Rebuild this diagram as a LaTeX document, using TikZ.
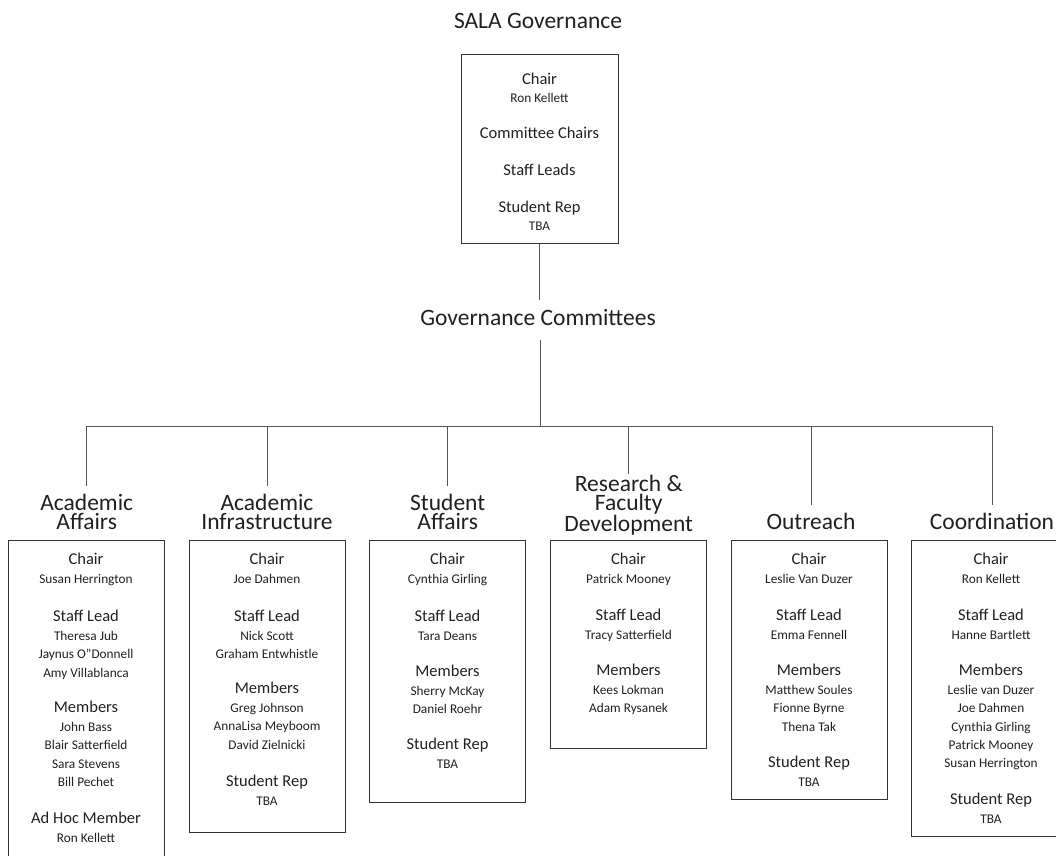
\documentclass[tikz,border=0pt]{standalone}
\usepackage{fontspec}
\setmainfont{Carlito}
\definecolor{ink}{HTML}{231F20}
\definecolor{boxline}{HTML}{333333}
\definecolor{connline}{HTML}{555555}
\newcommand\mkgroup[5]{%
  \node[hd] (#1h) at (#2,#3+5.3) {#4};
  \foreach \nme [count=\i] in {#5}
    \node[nm] (#1n\i) at (#2,#3+24.3+18.4*\i-18.4) {\nme};
}
\begin{document}
\begin{tikzpicture}[x=1pt,y=-1pt,
  every node/.style={text=ink, inner sep=0pt},
  big/.style={font=\fontsize{23.5}{28}\selectfont},
  ttl/.style={font=\fontsize{23.5}{18.8}\selectfont, align=center, anchor=north},
  hd/.style={font=\fontsize{16.5}{19}\selectfont, anchor=base},
  nm/.style={font=\fontsize{13.3}{16}\selectfont, anchor=base},
  cbox/.style={draw=boxline, line width=0.8pt, minimum width=156pt, anchor=north},
  conn/.style={draw=connline, line width=0.8pt}]
\clip (0,0) rectangle (1056,855);

% top
\node[big, anchor=base] (sala) at (538,28) {SALA Governance};
\node[cbox, minimum width=157pt, minimum height=189pt] (top) at (539.5,54) {};
\node[hd] (tc) at (539.5,84.3) {Chair};
\node[nm] (trk) at (539.5,102.3) {Ron Kellett};
\node[hd] (tcc) at (539.5,138.3) {Committee Chairs};
\node[hd] (tsl) at (539.5,175.3) {Staff Leads};
\node[hd] (tsr) at (539.5,212.3) {Student Rep};
\node[nm] (ttba) at (539.5,230.3) {TBA};

\node[big, text height=16.5pt, text depth=5pt, inner ysep=9pt, anchor=base] (gc) at (538,325.5) {Governance Committees};
\coordinate (bus) at (540,426);
\draw[conn] (top.south) -- (top.south |- gc.north);
\draw[conn] (gc.south -| bus) -- (bus);

% committee titles
\node[ttl] (t1) at (86.7,494.1) {Academic\\Affairs};
\node[ttl] (t2) at (267,494.1) {Academic\\Infrastructure};
\node[ttl] (t3) at (447.7,494.1) {Student\\Affairs};
\node[ttl] (t4) at (628.7,475.3) {Research \&\\Faculty\\Development};
\node[ttl] (t5) at (811,512.9) {Outreach};
\node[ttl] (t6) at (992,512.9) {Coordination};

\foreach \t in {t1,t2,t3,t5,t6}
  \draw[conn, shorten >=8pt] (bus) -| (\t.north);
\draw[conn, shorten >=1.5pt] (bus) -| (t4.north);

% boxes
\node[cbox, minimum height=345pt] (b1) at (86,539.5) {};
\node[cbox, minimum height=292.5pt] (b2) at (267,539.5) {};
\node[cbox, minimum height=262.5pt] (b3) at (447.5,539.5) {};
\node[cbox, minimum height=208.5pt] (b4) at (628.5,539.5) {};
\node[cbox, minimum height=259.5pt] (b5) at (809,539.5) {};
\node[cbox, minimum height=296.5pt] (b6) at (989,539.5) {};

% Academic Affairs
\mkgroup{aa1}{86}{559}{Chair}{Susan Herrington}
\mkgroup{aa2}{86}{616}{Staff Lead}{Theresa Jub,Jaynus O”Donnell,Amy Villablanca}
\mkgroup{aa3}{86}{707}{Members}{John Bass,Blair Satterfield,Sara Stevens,Bill Pechet}
\mkgroup{aa4}{86}{818}{Ad Hoc Member}{Ron Kellett}
% Academic Infrastructure
\mkgroup{ai1}{267}{559}{Chair}{Joe Dahmen}
\mkgroup{ai2}{267}{616}{Staff Lead}{Nick Scott,Graham Entwhistle}
\mkgroup{ai3}{267}{688}{Members}{Greg Johnson,AnnaLisa Meyboom,David Zielnicki}
\mkgroup{ai4}{267}{781}{Student Rep}{TBA}
% Student Affairs
\mkgroup{sa1}{447.5}{559}{Chair}{Cynthia Girling}
\mkgroup{sa2}{447.5}{616}{Staff Lead}{Tara Deans}
\mkgroup{sa3}{447.5}{671}{Members}{Sherry McKay,Daniel Roehr}
\mkgroup{sa4}{447.5}{744}{Student Rep}{TBA}
% Research & Faculty Development
\mkgroup{rf1}{628.5}{559}{Chair}{Patrick Mooney}
\mkgroup{rf2}{628.5}{615}{Staff Lead}{Tracy Satterfield}
\mkgroup{rf3}{628.5}{670}{Members}{Kees Lokman,Adam Rysanek}
% Outreach
\mkgroup{ou1}{809}{559}{Chair}{Leslie Van Duzer}
\mkgroup{ou2}{809}{615}{Staff Lead}{Emma Fennell}
\mkgroup{ou3}{809}{670}{Members}{Matthew Soules,Fionne Byrne,Thena Tak}
\mkgroup{ou4}{809}{762}{Student Rep}{TBA}
% Coordination
\mkgroup{co1}{991}{559}{Chair}{Ron Kellett}
\mkgroup{co2}{991}{615}{Staff Lead}{Hanne Bartlett}
\mkgroup{co3}{991}{670}{Members}{Leslie van Duzer,Joe Dahmen,Cynthia Girling,Patrick Mooney,Susan Herrington}
\mkgroup{co4}{991}{799}{Student Rep}{TBA}
\end{tikzpicture}
\end{document}
